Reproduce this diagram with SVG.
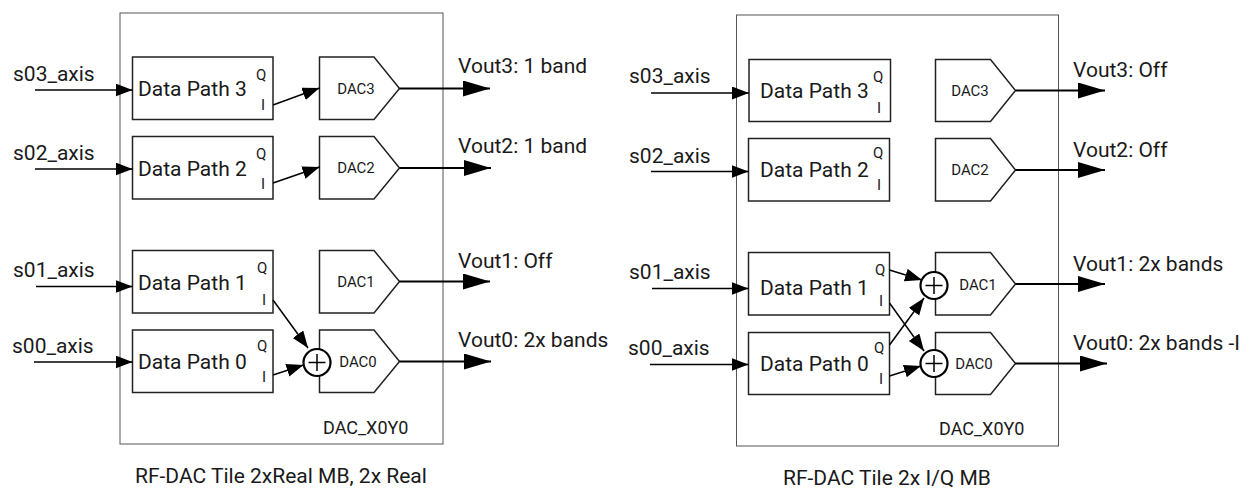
<svg xmlns="http://www.w3.org/2000/svg" width="1257" height="489" viewBox="0 0 1257 489">
<defs>
<style>
.t{font-family:Roboto,"Liberation Sans",sans-serif;fill:#1a1a1a}
.lab{font-size:21px}
.qi{font-size:15px}
.dac{font-size:15px;text-anchor:middle}
.tile{fill:none;stroke:#555;stroke-width:1}
.dp{fill:#fff;stroke:#222;stroke-width:1.5}
.ln{fill:none;stroke:#000;stroke-width:1.5}
.out{fill:none;stroke:#000;stroke-width:2}
.sum{fill:#fff;stroke:#000;stroke-width:2.2}
</style>
<marker id="ah" markerUnits="userSpaceOnUse" markerWidth="18" markerHeight="14" refX="17" refY="6.5" orient="auto"><path d="M0,0 L17,6.5 L0,13 Z" fill="#000"/></marker>
<marker id="ahb" markerUnits="userSpaceOnUse" markerWidth="28" markerHeight="17" refX="27" refY="8" orient="auto"><path d="M0,0 L27,8 L0,16 Z" fill="#000"/></marker>
</defs>
<rect width="1257" height="489" fill="#fff"/>

<!-- LEFT PANEL -->
<g id="tileL"><rect class="tile" x="120" y="13" width="323" height="431"/>
<text class="t" x="323" y="434" font-size="18">DAC_X0Y0</text></g>
<g id="dp3L"><rect class="dp" x="132.5" y="57" width="140.5" height="62.5"/><text class="t lab" x="138" y="96">Data Path 3</text><text class="t qi" x="256" y="80">Q</text><text class="t qi" x="261" y="110">I</text></g>
<g id="dp2L"><rect class="dp" x="132.5" y="136.5" width="140.5" height="62.5"/><text class="t lab" x="138" y="176">Data Path 2</text><text class="t qi" x="256" y="159">Q</text><text class="t qi" x="261" y="189">I</text></g>
<g id="dp1L"><rect class="dp" x="132.5" y="250.5" width="140.5" height="62.5"/><text class="t lab" x="138" y="290">Data Path 1</text><text class="t qi" x="257" y="273">Q</text><text class="t qi" x="262" y="305">I</text></g>
<g id="dp0L"><rect class="dp" x="132.5" y="330" width="140.5" height="62.5"/><text class="t lab" x="138" y="369">Data Path 0</text><text class="t qi" x="257" y="351">Q</text><text class="t qi" x="262" y="382">I</text></g>
<g id="dac3L"><path class="dp" d="M319.5,57 H374 L399.5,88.5 L374,119.5 H319.5 Z"/><text class="t dac" x="356" y="94">DAC3</text></g>
<g id="dac2L"><path class="dp" d="M319.5,136.5 H374 L399.5,168 L374,199 H319.5 Z"/><text class="t dac" x="356" y="173">DAC2</text></g>
<g id="dac1L"><path class="dp" d="M319.5,250.5 H374 L399.5,281.5 L374,313 H319.5 Z"/><text class="t dac" x="356" y="287">DAC1</text></g>
<g id="dac0L"><path class="dp" d="M319.5,330 H374 L399.5,361.5 L374,392.5 H319.5 Z"/><text class="t dac" x="358" y="367">DAC0</text></g>
<g id="sumL"><circle class="sum" cx="317" cy="362.5" r="13.5"/><path d="M317,354 V371 M308.5,362.5 H325.5" stroke="#000" stroke-width="1.5"/></g>
<g id="labelsL">
<text class="t lab" x="13" y="81">s03_axis</text>
<text class="t lab" x="13" y="160">s02_axis</text>
<text class="t lab" x="13" y="277">s01_axis</text>
<text class="t lab" x="12" y="353">s00_axis</text>
<text class="t lab" x="458" y="73">Vout3: 1 band</text>
<text class="t lab" x="458" y="153">Vout2: 1 band</text>
<text class="t lab" x="458" y="268">Vout1: Off</text>
<text class="t lab" x="458" y="347">Vout0: 2x bands</text>
<text class="t lab" x="135" y="483">RF-DAC Tile 2xReal MB, 2x Real</text>
</g>

<!-- RIGHT PANEL -->
<g id="tileR"><rect class="tile" x="736.5" y="15" width="322" height="431"/>
<text class="t" x="939" y="435" font-size="18">DAC_X0Y0</text></g>
<g id="dp3R"><rect class="dp" x="749" y="59.5" width="141.5" height="62"/><text class="t lab" x="760" y="98">Data Path 3</text><text class="t qi" x="873" y="82">Q</text><text class="t qi" x="877" y="113">I</text></g>
<g id="dp2R"><rect class="dp" x="748.5" y="138.5" width="141" height="62.5"/><text class="t lab" x="760" y="177">Data Path 2</text><text class="t qi" x="873" y="158">Q</text><text class="t qi" x="877" y="190">I</text></g>
<g id="dp1R"><rect class="dp" x="748.5" y="252.5" width="141" height="62.5"/><text class="t lab" x="760" y="295">Data Path 1</text><text class="t qi" x="875" y="275">Q</text><text class="t qi" x="879" y="306">I</text></g>
<g id="dp0R"><rect class="dp" x="748.5" y="332.5" width="141" height="62"/><text class="t lab" x="760" y="371">Data Path 0</text><text class="t qi" x="874" y="353">Q</text><text class="t qi" x="879" y="384">I</text></g>
<g id="dac3R"><path class="dp" d="M935.5,59.5 H990.5 L1015.5,90.5 L990.5,121.5 H935.5 Z"/><text class="t dac" x="970" y="96">DAC3</text></g>
<g id="dac2R"><path class="dp" d="M935.5,138.5 H990.5 L1015.5,170 L990.5,201 H935.5 Z"/><text class="t dac" x="970" y="175">DAC2</text></g>
<g id="dac1R"><path class="dp" d="M935.5,252.5 H990.5 L1015.5,284 L990.5,315 H935.5 Z"/><text class="t dac" x="978" y="290">DAC1</text></g>
<g id="dac0R"><path class="dp" d="M935.5,332.5 H990.5 L1015.5,363.5 L990.5,394.5 H935.5 Z"/><text class="t dac" x="974" y="369">DAC0</text></g>
<g id="sum1R"><circle class="sum" cx="934" cy="285.5" r="13.5"/><path d="M934,277 V294 M925.5,285.5 H942.5" stroke="#000" stroke-width="1.5"/></g>
<g id="sum0R"><circle class="sum" cx="934" cy="363.5" r="13.5"/><path d="M934,355 V372 M925.5,363.5 H942.5" stroke="#000" stroke-width="1.5"/></g>
<g id="labelsR">
<text class="t lab" x="629" y="83">s03_axis</text>
<text class="t lab" x="629" y="163">s02_axis</text>
<text class="t lab" x="629" y="279">s01_axis</text>
<text class="t lab" x="628" y="355">s00_axis</text>
<text class="t lab" x="1073" y="77">Vout3: Off</text>
<text class="t lab" x="1073" y="157">Vout2: Off</text>
<text class="t lab" x="1073" y="271">Vout1: 2x bands</text>
<text class="t lab" x="1073" y="350">Vout0: 2x bands -I</text>
<text class="t lab" x="783" y="485">RF-DAC Tile 2x I/Q MB</text>
</g>

<g id="connectors">
<path class="ln" marker-end="url(#ah)" d="M35,90 H132.5"/>
<path class="ln" marker-end="url(#ah)" d="M35,169 H132.5"/>
<path class="ln" marker-end="url(#ah)" d="M36,286.5 H132.5"/>
<path class="ln" marker-end="url(#ah)" d="M34,362 H132.5"/>
<path class="ln" marker-end="url(#ah)" d="M273,105 L319.5,88"/>
<path class="ln" marker-end="url(#ah)" d="M273,183 L319.5,167"/>
<path class="ln" marker-end="url(#ah)" d="M273,300 L308,348"/>
<path class="ln" marker-end="url(#ah)" d="M273,375 L303.5,365"/>
<path class="out" marker-end="url(#ahb)" d="M399.5,88.5 H490"/>
<path class="out" marker-end="url(#ahb)" d="M399.5,168 H491"/>
<path class="out" marker-end="url(#ahb)" d="M399.5,281.5 H490"/>
<path class="out" marker-end="url(#ahb)" d="M399.5,361.5 H491"/>

<path class="ln" marker-end="url(#ah)" d="M651,93 H749"/>
<path class="ln" marker-end="url(#ah)" d="M651,171.5 H748.5"/>
<path class="ln" marker-end="url(#ah)" d="M652,288.5 H748.5"/>
<path class="ln" marker-end="url(#ah)" d="M650,364.5 H748.5"/>
<path class="ln" marker-end="url(#ah)" d="M889.5,270 L922,280"/>
<path class="ln" marker-end="url(#ah)" d="M889.5,303 L924,351"/>
<path class="ln" marker-end="url(#ah)" d="M889.5,345 L924,298"/>
<path class="ln" marker-end="url(#ah)" d="M889.5,376 L921,366"/>
<path class="out" marker-end="url(#ahb)" d="M1015.5,90.5 H1105"/>
<path class="out" marker-end="url(#ahb)" d="M1015.5,170 H1105"/>
<path class="out" marker-end="url(#ahb)" d="M1015.5,284 H1105"/>
<path class="out" marker-end="url(#ahb)" d="M1015.5,363.5 H1107"/>
</g>
</svg>
